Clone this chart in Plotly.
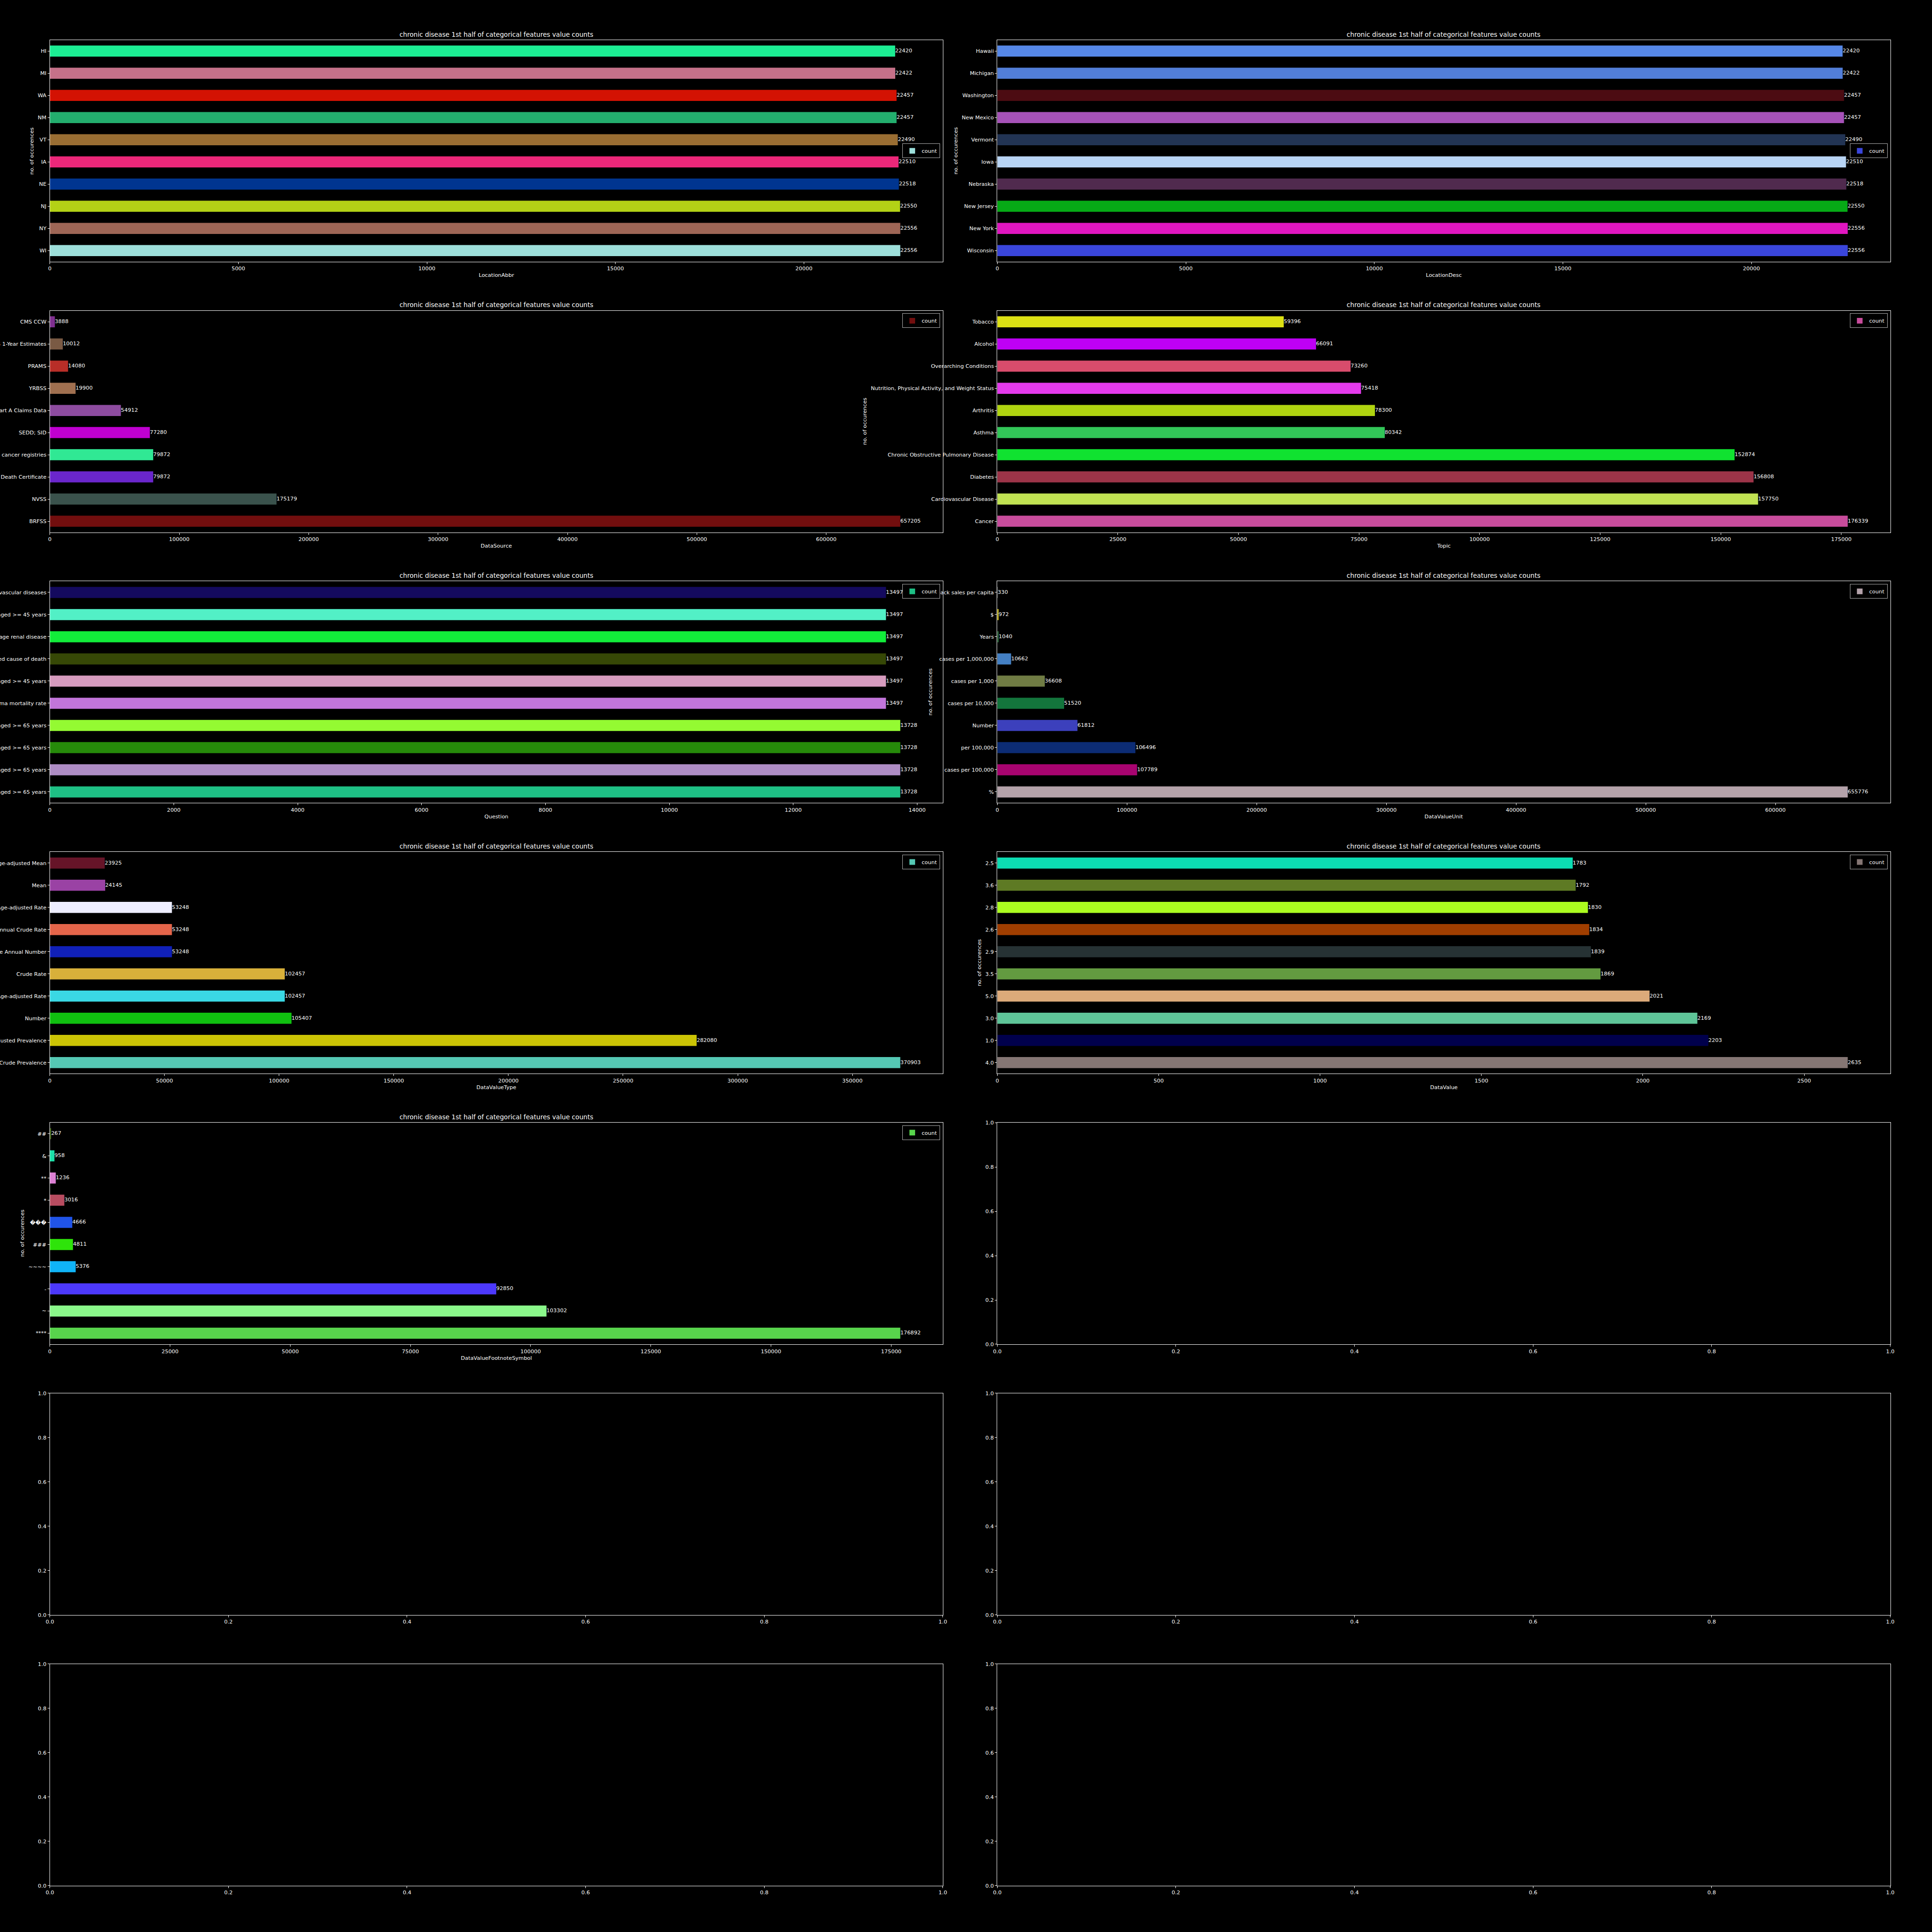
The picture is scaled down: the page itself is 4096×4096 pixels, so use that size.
import plotly.graph_objects as go

W = H = 4096
REF = 5000.0
S = W / REF
FONT = "DejaVu Sans"
TF = 13.89 * S      # 10pt text
TTF = 16.67 * S     # 12pt title
TITLE = "chronic disease 1st half of categorical features value counts"
YLAB = "no. of occurences"

# ---------------- data (bottom -> top) ----------------
loc_abbr = ["WI", "NY", "NJ", "NE", "IA", "VT", "NM", "WA", "MI", "HI"]
loc_abbr_counts = [22556, 22556, 22550, 22518, 22510, 22490, 22457, 22457, 22422, 22420]
loc_abbr_colors = ["#9ddfda", "#9e6656", "#b3d116", "#003590", "#ec2779",
                   "#9a6e33", "#23ae6e", "#d31203", "#c57189", "#1ced93"]

loc_desc = ["Wisconsin", "New York", "New Jersey", "Nebraska", "Iowa",
            "Vermont", "New Mexico", "Washington", "Michigan", "Hawaii"]
loc_desc_counts = [22556, 22556, 22550, 22518, 22510, 22490, 22457, 22457, 22422, 22420]
loc_desc_colors = ["#3a46dc", "#e016c0", "#06aa16", "#502a4e", "#b8d4f4",
                   "#223454", "#a652b8", "#4c0c12", "#527ed8", "#5688e8"]

datasource = ["BRFSS", "NVSS", "Death Certificate", "Statewide central cancer registries",
              "SEDD; SID", "CMS Part A Claims Data", "YRBSS", "PRAMS",
              "ACS 1-Year Estimates", "CMS CCW"]
datasource_counts = [657205, 175179, 79872, 79872, 77280, 54912, 19900, 14080, 10012, 3888]
datasource_colors = ["#720e0e", "#3a524c", "#6a26cc", "#30e894", "#c000d0",
                     "#8e4ca0", "#a07050", "#b82e28", "#7a5a44", "#803090"]

topic = ["Cancer", "Cardiovascular Disease", "Diabetes", "Chronic Obstructive Pulmonary Disease",
         "Asthma", "Arthritis", "Nutrition, Physical Activity, and Weight Status",
         "Overarching Conditions", "Alcohol", "Tobacco"]
topic_counts = [176339, 157750, 156808, 152874, 80342, 78300, 75418, 73260, 66091, 59396]
topic_colors = ["#c84c9c", "#c0e252", "#9c3448", "#10e230", "#32c658",
                "#b0d410", "#e43aec", "#d84c6c", "#be00f4", "#dce014"]

question = [
    "Hospitalization for chronic obstructive pulmonary disease as any diagnosis among Medicare-eligible persons aged >= 65 years",
    "Hospitalization for chronic obstructive pulmonary disease as first-listed diagnosis among Medicare-eligible persons aged >= 65 years",
    "Hospitalization for heart failure among Medicare-eligible persons aged >= 65 years",
    "Hospitalization for asthma among Medicare-eligible persons aged >= 65 years",
    "Asthma mortality rate",
    "Mortality with chronic obstructive pulmonary disease as underlying cause among adults aged >= 45 years",
    "Mortality due to diabetes reported as any listed cause of death",
    "Mortality with end-stage renal disease",
    "Mortality with chronic obstructive pulmonary disease as underlying or contributing cause among adults aged >= 45 years",
    "Mortality from total cardiovascular diseases",
]
question_counts = [13728, 13728, 13728, 13728, 13497, 13497, 13497, 13497, 13497, 13497]
question_colors = ["#1ec085", "#ae8cc4", "#268a0a", "#94fa32", "#c275da",
                   "#d69bbe", "#364806", "#12ec3a", "#52f0c6", "#140a5e"]

unit = ["%", "cases per 100,000", "per 100,000", "Number", "cases per 10,000",
        "cases per 1,000", "cases per 1,000,000", "Years", "$", "pack sales per capita"]
unit_counts = [655776, 107789, 106496, 61812, 51520, 36608, 10662, 1040, 972, 330]
unit_colors = ["#b4a2aa", "#a80470", "#0c2c74", "#3c40bc", "#13753c",
               "#707c44", "#4480c4", "#2c6a3c", "#e0cc20", "#8a8a8a"]

vtype = ["Crude Prevalence", "Age-adjusted Prevalence", "Number", "Age-adjusted Rate",
         "Crude Rate", "Average Annual Number", "Average Annual Crude Rate",
         "Average Annual Age-adjusted Rate", "Mean", "Age-adjusted Mean"]
vtype_counts = [370903, 282080, 105407, 102457, 102457, 53248, 53248, 53248, 24145, 23925]
vtype_colors = ["#55c8b4", "#ccc405", "#10c010", "#3ad8e4", "#d8b03a",
                "#1020b8", "#e4654a", "#eeeeff", "#9a42a4", "#661428"]

dvalue = ["4.0", "1.0", "3.0", "5.0", "3.5", "2.9", "2.6", "2.8", "3.6", "2.5"]
dvalue_counts = [2635, 2203, 2169, 2021, 1869, 1839, 1834, 1830, 1792, 1783]
dvalue_colors = ["#857674", "#00004c", "#5ec498", "#dcaa7a", "#639b40",
                 "#263234", "#a03e00", "#acfc20", "#5e7a24", "#0cdcb2"]

footnote = ["****", "~", "-", "~~~~", "###", "\ufffd\ufffd\ufffd", "*", "**", "&", "##"]
footnote_counts = [176892, 103302, 92850, 5376, 4811, 4666, 3016, 1236, 958, 267]
footnote_colors = ["#58d44c", "#8af78a", "#4c38fc", "#10b4f8", "#2ee40a",
                   "#2054e8", "#b84c60", "#dc80d4", "#1ce0a8", "#3c6010"]

# (row, col, cats, vals, colors, xlabel, dtick, legend position, ylabel x in ref px)
panels = [
    (0, 0, loc_abbr, loc_abbr_counts, loc_abbr_colors, "LocationAbbr", 5000, "mid", 81),
    (0, 1, loc_desc, loc_desc_counts, loc_desc_colors, "LocationDesc", 5000, "mid", 2473),
    (1, 0, datasource, datasource_counts, datasource_colors, "DataSource", 100000, "top", None),
    (1, 1, topic, topic_counts, topic_colors, "Topic", 25000, "top", 2237),
    (2, 0, question, question_counts, question_colors, "Question", 2000, "top", None),
    (2, 1, unit, unit_counts, unit_colors, "DataValueUnit", 100000, "top", 2408),
    (3, 0, vtype, vtype_counts, vtype_colors, "DataValueType", 50000, "top", None),
    (3, 1, dvalue, dvalue_counts, dvalue_colors, "DataValue", 500, "top", 2534),
    (4, 0, footnote, footnote_counts, footnote_colors, "DataValueFootnoteSymbol", 25000, "top", 58),
]
empty_panels = [(4, 1), (5, 0), (5, 1), (6, 0), (6, 1)]


def xdom(col):
    return [129 / REF, 2440 / REF] if col == 0 else [2581 / REF, 4892 / REF]


def ydom(row):
    top = 103.6 + 700.45 * row
    bot = top + 573.6
    return [1 - bot / REF, 1 - top / REF]


axis_common = dict(
    showline=True, linecolor="white", linewidth=1, mirror=True,
    ticks="outside", ticklen=4, tickwidth=1, tickcolor="white",
    tickfont=dict(color="white", size=TF, family=FONT),
    showgrid=False, zeroline=False, automargin=False,
)

fig = go.Figure()
layout = {}
annotations = []

idx = 0
for (row, col, cats, vals, colors, xlabel, dtick, lpos, ylx) in panels:
    idx += 1
    xa = "x" if idx == 1 else f"x{idx}"
    ya = "y" if idx == 1 else f"y{idx}"
    lg = "legend" if idx == 1 else f"legend{idx}"
    fig.add_trace(go.Bar(
        x=vals, y=cats, orientation="h", width=0.5,
        marker=dict(color=colors, line=dict(width=0)),
        name="count", showlegend=True, legend=lg,
        xaxis=xa, yaxis=ya, hoverinfo="x+y",
    ))
    fig.add_trace(go.Scatter(
        x=vals, y=cats, mode="text", text=[str(v) for v in vals],
        textposition="middle right",
        textfont=dict(color="white", size=TF, family=FONT),
        cliponaxis=False, showlegend=False, hoverinfo="skip",
        xaxis=xa, yaxis=ya,
    ))
    xd, yd = xdom(col), ydom(row)
    layout["xaxis" if idx == 1 else f"xaxis{idx}"] = dict(
        axis_common, domain=xd, anchor=ya, range=[0, max(vals) * 1.05],
        tickmode="linear", tick0=0, dtick=dtick, tickformat="d",
    )
    layout["yaxis" if idx == 1 else f"yaxis{idx}"] = dict(
        axis_common, domain=yd, anchor=xa, type="category",
        categoryorder="array", categoryarray=cats, range=[-0.5, len(cats) - 0.5],
    )
    inset = 7 / REF
    if lpos == "top":
        ly, lya = yd[1] - inset, "top"
    else:
        ly, lya = (yd[0] + yd[1]) / 2, "middle"
    layout[lg] = dict(
        x=xd[1] - inset, xanchor="right", y=ly, yanchor=lya,
        xref="paper", yref="paper",
        bgcolor="black", bordercolor="#b0b0b0", borderwidth=1,
        font=dict(color="white", size=TF, family=FONT),
        itemwidth=30, tracegroupgap=0,
    )
    xm = (xd[0] + xd[1]) / 2
    annotations.append(dict(
        text=TITLE, x=xm, y=yd[1], xref="paper", yref="paper",
        xanchor="center", yanchor="middle", yshift=15 * S, showarrow=False,
        font=dict(color="white", size=TTF, family=FONT),
    ))
    annotations.append(dict(
        text=xlabel, x=xm, y=yd[0], xref="paper", yref="paper",
        xanchor="center", yanchor="middle", yshift=-34.8 * S, showarrow=False,
        font=dict(color="white", size=TF, family=FONT),
    ))
    if ylx is not None:
        annotations.append(dict(
            text=YLAB, x=ylx / REF, y=(yd[0] + yd[1]) / 2, xref="paper", yref="paper",
            xanchor="center", yanchor="middle", textangle=-90, showarrow=False,
            font=dict(color="white", size=TF, family=FONT),
        ))

for (row, col) in empty_panels:
    idx += 1
    xa, ya = f"x{idx}", f"y{idx}"
    xd, yd = xdom(col), ydom(row)
    # empty trace so that the (blank) subplot is created
    fig.add_trace(go.Scatter(x=[None], y=[None], mode="markers", showlegend=False,
                             hoverinfo="skip", xaxis=xa, yaxis=ya))
    layout[f"xaxis{idx}"] = dict(
        axis_common, domain=xd, anchor=ya, range=[0, 1],
        tickmode="linear", tick0=0, dtick=0.2, tickformat=".1f",
    )
    layout[f"yaxis{idx}"] = dict(
        axis_common, domain=yd, anchor=xa, range=[0, 1],
        tickmode="linear", tick0=0, dtick=0.2, tickformat=".1f",
    )

fig.update_layout(
    width=W, height=H,
    margin=dict(l=0, r=0, t=0, b=0),
    paper_bgcolor="black", plot_bgcolor="black",
    font=dict(family=FONT, color="white", size=TF),
    annotations=annotations,
    **layout,
)

fig.write_html("out.html")
